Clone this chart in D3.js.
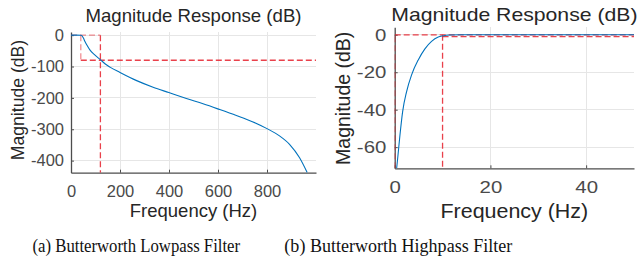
<!DOCTYPE html>
<html>
<head>
<meta charset="utf-8">
<script src="https://cdn.jsdelivr.net/npm/d3@7"></script>
<style>
  html, body { margin: 0; padding: 0; background: #fff; }
  svg { display: block; }
</style>
</head>
<body>
<svg id="chart" width="641" height="260"></svg>
<script>
// ---------- DATA ----------
// (a) Butterworth lowpass: magnitude response
const lpFreq = [0, 20, 42, 50, 57, 66, 77, 98, 121, 140, 159, 200, 268, 335, 399, 471, 539, 599, 675, 743, 800, 851, 892, 933, 964];
const lpMag  = [0, 0, -0.5, -8.6, -20, -33, -47, -64, -79, -92, -102, -119, -145, -166, -183, -202, -219, -235, -256, -276.5, -298, -321, -348, -391, -438];
const lpXTicks = [0, 200, 400, 600, 800];
const lpYTicks = [0, -100, -200, -300, -400];
const lpXDomain = [0, 1000];
const lpYDomain = [-438.5, 10];
// spec (dashed) lines: [x1, y1, x2, y2, strong?]
const lpSpecX1 = [0, 40, 120, 40];
const lpSpecY1 = [0, 0, 0, -80];
const lpSpecX2 = [120, 40, 120, 1000];
const lpSpecY2 = [0, -80, -438.5, -80];
const lpSpecStrong = [false, false, true, true];

// (b) Butterworth highpass
const hpFreq = [0.41, 0.69, 1.1, 1.66, 2.49, 3.53, 4.92, 6.31, 7.7, 9.1, 10, 11.5, 14, 20, 30, 40, 50];
const hpMag  = [-71.3, -64.2, -53.5, -41, -30.3, -21.4, -13.4, -7.5, -3.5, -1.2, -0.6, -0.1, 0, 0, 0, 0, 0];
const hpXTicks = [0, 20, 40];
const hpYTicks = [0, -20, -40, -60];
const hpXDomain = [0, 50];
const hpYDomain = [-71.3, 4];
const hpSpecX1 = [0, 0, 10, 10];
const hpSpecY1 = [-71.3, 0, 0, -1];
const hpSpecX2 = [0, 50, 10, 50];
const hpSpecY2 = [0, 0, -71.3, -1];
const hpSpecStrong = [true, true, true, true];

const titleText = "Magnitude Response (dB)";
const xLabelText = "Frequency (Hz)";
const yLabelText = "Magnitude (dB)";
const captions = ["(a) Butterworth Lowpass Filter", "(b) Butterworth Highpass Filter"];

// ---------- DRAW ----------
const svg = d3.select("#chart");
const FONT = "'Liberation Sans', Arial, Helvetica, sans-serif";

function panel(cfg) {
  const g = svg.append("g");
  const x = d3.scaleLinear().domain(cfg.xDomain).range([cfg.left, cfg.right]);
  const y = d3.scaleLinear().domain(cfg.yDomain).range([cfg.bottom, cfg.top]);
  const clipId = "clip" + cfg.id;
  svg.append("clipPath").attr("id", clipId).append("rect")
    .attr("x", cfg.left).attr("y", cfg.top)
    .attr("width", cfg.right - cfg.left).attr("height", cfg.bottom - cfg.top);

  // grid
  g.append("g").selectAll("line").data(cfg.xTicks.filter(d => d !== cfg.xDomain[0])).join("line")
    .attr("x1", d => x(d)).attr("x2", d => x(d)).attr("y1", cfg.top).attr("y2", cfg.bottom)
    .attr("stroke", "#e6e6e6").attr("stroke-width", 1).attr("shape-rendering", "crispEdges");
  g.append("g").selectAll("line").data(cfg.yTicks).join("line")
    .attr("x1", cfg.left).attr("x2", cfg.right).attr("y1", d => y(d)).attr("y2", d => y(d))
    .attr("stroke", "#e6e6e6").attr("stroke-width", 1).attr("shape-rendering", "crispEdges");

  // axes
  const xAxis = d3.axisBottom(x).tickValues(cfg.xTicks).tickSize(-3).tickSizeOuter(0).tickPadding(13);
  const yAxis = d3.axisLeft(y).tickValues(cfg.yTicks).tickSize(-3).tickSizeOuter(0).tickPadding(7)
    .tickFormat(d => d3.format("d")(d).replace("−", "-"));
  const gx = g.append("g").attr("transform", `translate(0,${cfg.bottom})`).call(xAxis);
  const gy = g.append("g").attr("transform", `translate(${cfg.left},0)`).call(yAxis);
  [gx, gy].forEach(a => {
    a.select(".domain").attr("stroke", "#4d4d4d").attr("stroke-width", 1.3);
    a.selectAll(".tick line").attr("stroke", "#4d4d4d");
    a.selectAll(".tick text").attr("fill", "#4a4a4a")
      .style("font-family", FONT).style("font-size", cfg.tickFont + "px");
  });
  gx.selectAll(".tick text").attr("dy", "0.71em")
    .attr("transform", `scale(${cfg.sx},1)`);
  gy.selectAll(".tick text").attr("transform", `scale(${cfg.sx},1)`);

  // spec dashed lines
  const spec = g.append("g").attr("clip-path", `url(#${clipId})`);
  cfg.specX1.forEach((_, i) => {
    spec.append("line")
      .attr("x1", x(cfg.specX1[i])).attr("y1", y(cfg.specY1[i]))
      .attr("x2", x(cfg.specX2[i])).attr("y2", y(cfg.specY2[i]))
      .attr("stroke", "#e5202c")
      .attr("stroke-opacity", cfg.specStrong[i] ? 0.85 : 0.5)
      .attr("stroke-width", 1.3)
      .attr("stroke-dasharray", "6,3");
  });

  // curve
  const pts = cfg.freq.map((f, i) => [f, cfg.mag[i]]);
  g.append("path").datum(pts)
    .attr("clip-path", `url(#${clipId})`)
    .attr("fill", "none").attr("stroke", "#0072BD").attr("stroke-width", 1.1)
    .attr("d", d3.line().x(d => x(d[0])).y(d => y(d[1])).curve(d3.curveMonotoneX));

  // title
  const cx = (cfg.left + cfg.right) / 2;
  g.append("text").attr("transform", `translate(${cx},${cfg.titleY}) scale(${cfg.sxTitle},1)`)
    .attr("text-anchor", "middle").attr("fill", "#262626")
    .style("font-family", FONT).style("font-size", cfg.titleFont + "px").text(titleText);
  // x label
  g.append("text").attr("transform", `translate(${cx},${cfg.xLabelY}) scale(${cfg.sxLabel},1)`)
    .attr("text-anchor", "middle").attr("fill", "#262626")
    .style("font-family", FONT).style("font-size", cfg.xLabelFont + "px").text(xLabelText);
  // y label
  g.append("text").attr("transform", `translate(${cfg.yLabelX},${cfg.yLabelCY}) rotate(-90)`)
    .attr("text-anchor", "middle").attr("fill", "#262626")
    .style("font-family", FONT).style("font-size", cfg.yLabelFont + "px").text(yLabelText);
  // caption
  g.append("text").attr("transform", `translate(${cfg.capX},252) scale(${cfg.capSx},1)`)
    .attr("text-anchor", "middle").attr("fill", "#111")
    .style("font-family", "'Liberation Serif', 'Times New Roman', serif")
    .style("font-size", "18.5px").text(cfg.caption);
}

panel({
  id: "a", left: 71, right: 316, top: 32, bottom: 172.7,
  xDomain: lpXDomain, yDomain: lpYDomain, xTicks: lpXTicks, yTicks: lpYTicks,
  freq: lpFreq, mag: lpMag,
  specX1: lpSpecX1, specY1: lpSpecY1, specX2: lpSpecX2, specY2: lpSpecY2, specStrong: lpSpecStrong,
  tickFont: 16.5, sx: 1, titleFont: 18.6, sxTitle: 1, titleY: 21.7,
  xLabelFont: 18.5, sxLabel: 1, xLabelY: 216.7,
  yLabelFont: 17.6, yLabelX: 24, yLabelCY: 100,
  caption: captions[0], capX: 136.3, capSx: 0.905
});

panel({
  id: "b", left: 394.7, right: 634, top: 27.3, bottom: 168.3,
  xDomain: hpXDomain, yDomain: hpYDomain, xTicks: hpXTicks, yTicks: hpYTicks,
  freq: hpFreq, mag: hpMag,
  specX1: hpSpecX1, specY1: hpSpecY1, specX2: hpSpecX2, specY2: hpSpecY2, specStrong: hpSpecStrong,
  tickFont: 17, sx: 1.2, titleFont: 18.6, sxTitle: 1.14, titleY: 20.7,
  xLabelFont: 19.5, sxLabel: 1.1, xLabelY: 218.3,
  yLabelFont: 19.5, yLabelX: 350, yLabelCY: 98.3,
  caption: captions[1], capX: 398.3, capSx: 0.975
});
</script>
</body>
</html>
